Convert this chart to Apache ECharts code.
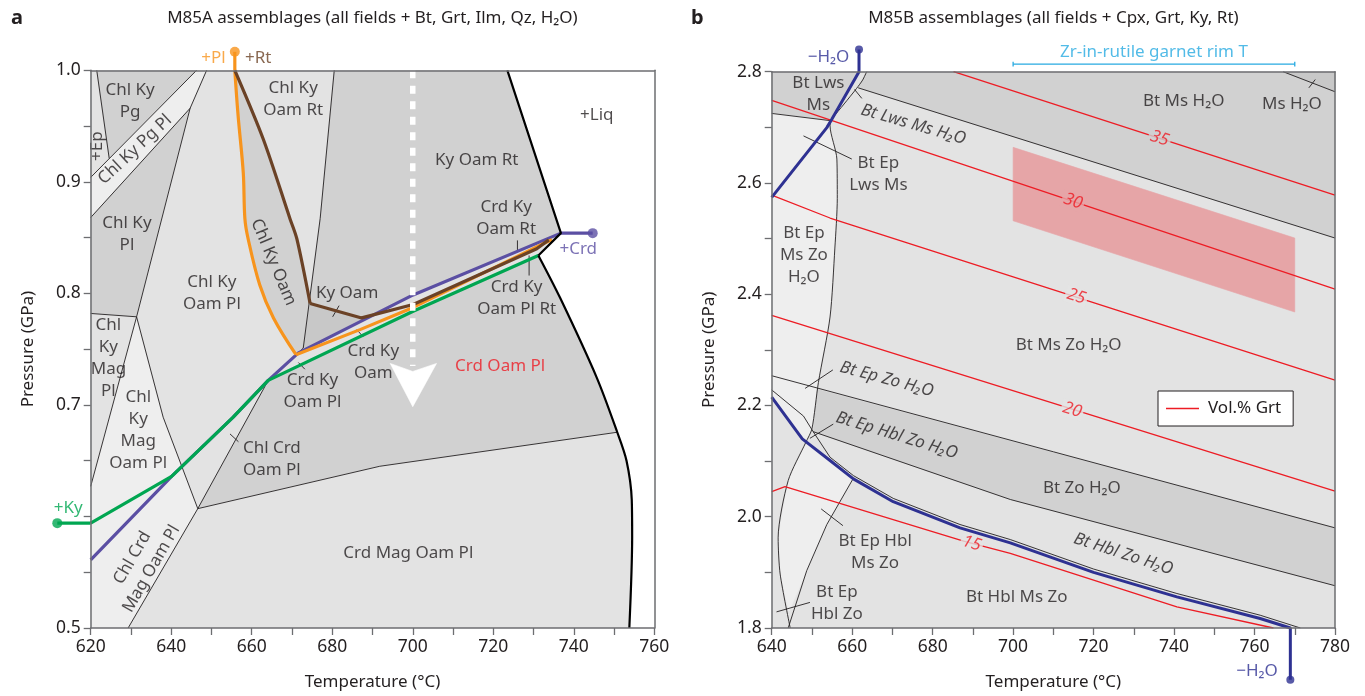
<!DOCTYPE html>
<html><head><meta charset="utf-8">
<script src="https://cdn.jsdelivr.net/npm/echarts@6/dist/echarts.min.js"></script>
<style>html,body{margin:0;padding:0;background:#fff}#c{width:1365px;height:696px}</style>
</head><body><div id="c"></div>
<script>
// ================= PANEL A DATA (T °C, P GPa) =================
const aGreenStub = [[611.7,0.594],[620,0.594]];
const aGreen  = [[620,0.594],[640.1,0.636],[655.4,0.689],[664.1,0.722],[700.1,0.784],[731.2,0.834]];
const aPurple = [[620,0.561],[640.1,0.636],[655.4,0.689],[664.1,0.722],[671.6,0.7467],[700.1,0.7986],[736.8,0.854],[744.7,0.854]];
const aOrangeStub = [[655.8,1.0166],[655.8,1.0]];
const aOrangeCurve = [[655.8,1.0],[656.6,0.96],[657.9,0.908],[658.3,0.867],[659.1,0.849],[662.0,0.8075],[665.4,0.778],[671.0,0.745]];
const aOrangeLow = [[671.0,0.745],[686.9,0.7675],[700.1,0.7874],[732.4,0.8446],[734.6,0.848]];
const aBrownCurve = [[655.8,1.0],[662.9,0.938],[669.5,0.867],[671.2,0.849],[674.5,0.791]];
const aBrownLow = [[674.5,0.791],[687.3,0.778],[700.1,0.790],[730.8,0.840],[733.8,0.848]];
const aLiqTop = [[723.5,1.0],[736.8,0.854],[731.2,0.834]];
const aLiqLow = [[731.2,0.834],[736.6,0.796],[745.7,0.7245],[750.8,0.6755],[753.1,0.65],[754.4,0.615],[754.5,0.582],[753.8,0.5]];
const aBounds = [
  [[621.5,1.0],[624.6,0.921]],
  [[620,0.904],[646.3,1.0]],
  [[620,0.868],[644.7,0.966],[648.8,1.0]],
  [[644.7,0.966],[631.4,0.779]],
  [[620,0.782],[631.4,0.779]],
  [[631.4,0.779],[620,0.627]],
  [[631.4,0.779],[638,0.689],[646.6,0.607]],
  [[646.6,0.607],[629.3,0.5]],
  [[646.6,0.607],[664.1,0.722]],
  [[646.6,0.607],[691.8,0.645],[750.8,0.6755]],
  [[680.5,1.0],[677,0.867],[672.8,0.751],[671.6,0.7467]]
];
const aLeaders = [
  [[671.6,0.738],[673.2,0.732]],
  [[686.1,0.7675],[687.7,0.761]],
  [[680.1,0.779],[681.7,0.789]],
  [[726,0.8475],[726,0.837]],
  [[728.9,0.834],[728.9,0.816]],
  [[654.6,0.674],[656.7,0.667]]
];
const aFields = [
  [[620,1],[621.5,1],[624.6,0.921],[620,0.904]],
  [[621.5,1],[646.3,1],[624.6,0.921]],
  [[620,0.904],[646.3,1],[648.8,1],[644.7,0.966],[620,0.868]],
  [[620,0.868],[644.7,0.966],[631.4,0.779],[620,0.782]],
  [[620,0.782],[631.4,0.779],[620,0.627]],
  [[620,0.627],[631.4,0.779],[638,0.689],[646.6,0.607],[629.3,0.5],[620,0.5]],
  [[648.8,1],[655.8,1],[656.6,0.96],[657.9,0.908],[658.3,0.867],[659.1,0.849],[662,0.8075],[665.4,0.778],[671,0.745],[664.1,0.722],[646.6,0.607],[638,0.689],[631.4,0.779],[644.7,0.966]],
  [[655.8,1],[656.6,0.96],[657.9,0.908],[658.3,0.867],[659.1,0.849],[662,0.8075],[665.4,0.778],[671,0.745],[671.6,0.7467],[672.8,0.751],[674.5,0.791],[671.2,0.849],[669.5,0.867],[662.9,0.938]],
  [[655.8,1],[680.5,1],[677,0.867],[674.5,0.791],[671.2,0.849],[669.5,0.867],[662.9,0.938]],
  [[680.5,1],[723.5,1],[736.8,0.854],[700.1,0.7986],[671.6,0.7467],[672.8,0.751],[677,0.867]],
  [[671.6,0.7467],[672.8,0.751],[674.5,0.791],[687.3,0.778],[688.5,0.7792]],
  [[664.1,0.722],[671.6,0.7467],[700.1,0.7986],[736.8,0.854],[731.2,0.834],[700.1,0.784]],
  [[646.6,0.607],[664.1,0.722],[700.1,0.784],[731.2,0.834],[736.6,0.796],[745.7,0.7245],[750.8,0.6755],[691.8,0.645]],
  [[629.3,0.5],[646.6,0.607],[691.8,0.645],[750.8,0.6755],[753.1,0.65],[754.4,0.615],[754.5,0.582],[753.8,0.5]]
];
const aFieldTone = ['light','dark','lightest','dark','light','lightest','light','dark','light','dark','darker','light','dark','light'];
const aDashed = [[700,1.0],[700,0.735]];
const aArrow  = [[694.4,0.7372],[700,0.7300],[705.9,0.7372],[700,0.6984]];
const aHiddenTicks = ['0.6'];
const aLabels = [
  ['Chl Ky\nPg',629.8,0.972,0],['+Ep',621.6,0.932,90],['Chl Ky Pg Pl',631,0.929,43],
  ['Chl Ky\nPl',629,0.853,0],['Chl Ky\nOam Rt',670.3,0.974,0],['Chl Ky Oam',665.4,0.828,-67],
  ['Ky Oam Rt',715.9,0.919,0],['+Liq',745.7,0.960,0],['Crd Ky\nOam Rt',723.2,0.8675,0],
  ['Chl Ky\nOam Pl',650.1,0.80,0],['Ky Oam',683.7,0.800,0],['Crd Ky\nOam Pl Rt',725.8,0.796,0],
  ['Crd Ky\nOam',690.2,0.7385,0],['Crd Ky\nOam Pl',675.1,0.712,0],['Chl\nKy\nMag\nPl',624.4,0.742,0],
  ['Chl\nKy\nMag\nOam Pl',631.8,0.677,0],['Chl Crd\nOam Pl',665,0.651,0],['Chl Crd\nMag Oam Pl',632.7,0.558,60],
  ['Crd Mag Oam Pl',698.9,0.567,0]
];

// ================= PANEL B DATA =================
const bBlueTop = [[661.7,2.84],[661.7,2.8],[654.9,2.714],[653.7,2.6995],[640,2.574]];
const bBlueLow = [[640,2.215],[647.6,2.140],[654.5,2.101],[660.3,2.068],[670.2,2.027],[686.8,1.980],[699.3,1.953],[720,1.900],[740.7,1.856],[761.4,1.817],[768.9,1.8],[768.9,1.707]];
const bEpCurve = [[663.6,2.8],[662.6,2.785],[661.1,2.77],[658,2.742],[654.9,2.714],[654.5,2.703],[656.2,2.643],[656.3,2.572],[655.7,2.483],[654.5,2.359],[651.6,2.241],[650,2.158],[648.5,2.134],[644.1,2.065],[641.6,1.962],[642.1,1.897],[644.6,1.8]];
const bBounds = [
  [[640,2.725],[654.6,2.712]],
  [[661.5,2.771],[780,2.501]],
  [[767.1,2.8],[780,2.764]],
  [[640,2.2535],[780,1.98]],
  [[650.3,2.153],[699.3,2.031],[780,1.876]],
  [[640,2.228],[647.9,2.181],[650.3,2.153],[654.5,2.107],[660.3,2.074],[670.2,2.033],[686.8,1.986],[699.3,1.959],[720,1.906],[740.7,1.862],[761.4,1.823],[771.4,1.8]],
  [[660.2,2.068],[653.7,1.986],[648.7,1.903],[644.1,1.8]]
];
const bLeaders = [
  [[660.6,2.768],[662.4,2.752]],
  [[647.9,2.6846],[659.9,2.643]],
  [[648.3,2.2307],[655.2,2.2639]],
  [[649.5,2.141],[655.3,2.1665]],
  [[652.3,2.014],[657.7,1.984]],
  [[641.2,1.829],[649.5,1.846]],
  [[773.5,2.771],[775.1,2.786]]
];
const bGrt = {
  '35': [[685.2,2.8],[780,2.578]],
  '30': [[640,2.7485],[780,2.409]],
  '25': [[640,2.578],[654.5,2.537],[780,2.2455]],
  '20': [[640,2.362],[780,2.046]],
  '15': [[640,2.045],[643.3,2.054],[687.7,1.956],[699.3,1.934],[740.7,1.838],[764.7,1.80]]
};
const bGrtLabels = [['35',736.4,2.680,'dark'],['30',714.9,2.567,'pink'],['25',715.7,2.396,'light'],['20',714.7,2.192,'light'],['15',689.7,1.952,'light']];
const bRimBox = [[700,2.664],[770,2.501],[770,2.368],[700,2.532]];
const bRimT = [[700,2.8137],[770,2.8137]];
const bFields = [
  [[640,2.8],[661.7,2.8],[654.9,2.714],[654.6,2.712],[640,2.725]],
  [[663.6,2.8],[780,2.8],[780,2.501],[661.5,2.771],[662.6,2.785]],
  [[767.1,2.8],[780,2.8],[780,2.764]],
  [[640,2.725],[654.6,2.712],[654.5,2.703],[656.2,2.643],[656.3,2.572],[655.7,2.483],[654.5,2.359],[651.6,2.241],[650,2.158],[648.5,2.134],[647.6,2.140],[640,2.215]],
  [[648.5,2.134],[654.5,2.101],[660.3,2.068],[660.2,2.068],[653.7,1.986],[648.7,1.903],[644.3,1.83],[642.1,1.897],[641.6,1.962],[644.1,2.065]],
  [[651.3,2.229],[780,1.98],[780,1.876],[699.3,2.031],[650.3,2.153]]
];
const bFieldTone = ['dark','dark','darker','lightest','lightest','dark'];
const bLabels = [
  ['Bt Lws\nMs',651.6,2.76,0],['Bt Lws Ms H₂O',675.2,2.705,-16],['Bt Ep\nLws Ms',666.5,2.615,0],
  ['Bt Ep\nMs Zo\nH₂O',648,2.47,0],['Bt Ms H₂O',742.4,2.747,0],['Ms H₂O',769.3,2.741,0],
  ['Bt Ms Zo H₂O',713.8,2.309,0],['Bt Ep Zo H₂O',668.6,2.247,-15],['Bt Ep Hbl Zo H₂O',671.1,2.146,-17],
  ['Bt Zo H₂O',717.1,2.052,0],['Bt Hbl Zo H₂O',727.4,1.933,-18],['Bt Ep Hbl\nMs Zo',665.7,1.937,0],
  ['Bt Ep\nHbl Zo',656.2,1.8445,0],['Bt Hbl Ms Zo',700.9,1.855,0]
];

// ================= STYLES =================
const FONT = "'Noto Sans','DejaVu Sans',sans-serif";
const INK = '#231f20', AX = '#6d6e71';
const FS = 17;
const TONES = {dark:'#d1d1d1', darker:'#c8c8c8', light:'#e3e3e3', lightest:'#eeeeee', pink:'#e6a5a7', white:'#ffffff'};
const C = {green:'#00a651', purple:'#5b4fa3', orange:'#f7941d', brown:'#6b4226', blue:'#2e3192', red:'#ed1c24', cyan:'#27aae1'};

function polySeries(polys, tones, gi, z) {
  return {type:'custom', xAxisIndex:gi, yAxisIndex:gi, z:z, silent:true, clip:true, animation:false,
    data: polys.map((p,i)=>[p[0][0],p[0][1],i]),
    renderItem:(params, api)=>{
      const i = params.dataIndex, col = TONES[tones[i]];
      return {type:'polygon', shape:{points: polys[i].map(q=>api.coord(q))},
        style:{fill:col, stroke:col, lineWidth:0.6}};
    }};
}
function stubSeries(pts, gi, color, width, z) {
  const last = pts[pts.length-1];
  return {type:'custom', xAxisIndex:gi, yAxisIndex:gi, z:z, silent:true, clip:false, animation:false,
    data:[[last[0], last[1]]],
    renderItem:(params, api)=>({type:'polyline', shape:{points: pts.map(q=>api.coord(q))},
      style:{stroke:color, lineWidth:width, fill:null}})};
}
function lineS(data, gi, color, width, extra) {
  return Object.assign({type:'line', xAxisIndex:gi, yAxisIndex:gi, data:data, symbol:'none', silent:true,
    animation:false, lineStyle:{color:color, width:width}, itemStyle:{color:color}, z:3}, extra||{});
}
function dotS(pts, gi, color, size) {
  return {type:'scatter', xAxisIndex:gi, yAxisIndex:gi, data:pts, symbol:'circle', symbolSize:size,
    itemStyle:{color:color}, clip:false, silent:true, z:6, animation:false};
}
function labelS(list, gi, color, extra) {
  return {type:'scatter', xAxisIndex:gi, yAxisIndex:gi, symbol:'circle', symbolSize:1, clip:false, silent:true, z:8,
    animation:false, itemStyle:{color:'transparent'},
    data: list.map(l=>({value:[l[1],l[2]], label:{formatter:l[0], rotate:l[3]||0,
      fontStyle: (l[3] && gi===1) ? 'italic' : 'normal'}})),
    label: Object.assign({show:true, position:'inside', color:color, fontSize:FS, fontFamily:FONT,
      lineHeight:22, align:'center', verticalAlign:'middle'}, extra||{})};
}

const series = [];
// panel a
series.push(polySeries(aFields, aFieldTone, 0, 1));
aBounds.forEach(b=>series.push(lineS(b,0,INK,0.9,{z:2})));
aLeaders.forEach(b=>series.push(lineS(b,0,INK,0.9,{z:2})));
series.push(lineS(aPurple,0,C.purple,3.2,{z:3}));
series.push(stubSeries(aOrangeStub,0,C.orange,3.2,3));
series.push(lineS(aOrangeCurve,0,C.orange,3.2,{z:3, smooth:0.35}));
series.push(lineS(aOrangeLow,0,C.orange,3.2,{z:3}));
series.push(lineS(aBrownCurve,0,C.brown,3.2,{z:3, smooth:0.3}));
series.push(lineS(aBrownLow,0,C.brown,3.2,{z:3}));
series.push(stubSeries(aGreenStub,0,C.green,3.2,3));
series.push(lineS(aGreen,0,C.green,3.2,{z:3}));
series.push(lineS(aLiqTop,0,'#000',2.2,{z:3}));
series.push(lineS(aLiqLow,0,'#000',2.2,{z:3, smooth:0.3}));
series.push(lineS(aDashed,0,'#ffffff',5.5,{z:4, lineStyle:{color:'#fff', width:5.5, type:[8,7.5]}}));
series.push(polySeries([aArrow],['white'],0,4));
series.push(dotS([aOrangeStub[0]],0,C.orange,10));
series.push(dotS([aGreenStub[0]],0,C.green,10));
series.push(dotS([aPurple[aPurple.length-1]],0,C.purple,10));
series.push(labelS(aLabels,0,INK));
series.push(labelS([['Crd Oam Pl',721.7,0.735,0]],0,C.red));
series.push(labelS([['+Pl',650.5,1.011,0]],0,C.orange));
series.push(labelS([['+Rt',661.6,1.011,0]],0,C.brown));
series.push(labelS([['+Ky',614.4,0.607,0]],0,C.green));
series.push(labelS([['+Crd',741.1,0.8395,0]],0,C.purple));
// panel b
series.push(polySeries(bFields, bFieldTone, 1, 1));
series.push(polySeries([bRimBox], ['pink'], 1, 1.5));
bBounds.forEach(b=>series.push(lineS(b,1,INK,0.9,{z:2})));
series.push(lineS(bEpCurve,1,INK,0.9,{z:2, smooth:0.25}));
bLeaders.forEach(b=>series.push(lineS(b,1,INK,0.9,{z:2})));
Object.keys(bGrt).forEach(k=>series.push(lineS(bGrt[k],1,C.red,1.3,{z:2.5, name:'Vol.% Grt'})));
series.push({type:'scatter', xAxisIndex:1, yAxisIndex:1, symbolSize:1, silent:true, z:7, animation:false,
  itemStyle:{color:'transparent'},
  data: bGrtLabels.map(l=>({value:[l[1],l[2]], label:{formatter:l[0], backgroundColor:TONES[l[3]]}})),
  label:{show:true, position:'inside', color:C.red, fontSize:FS, fontStyle:'italic', fontFamily:FONT,
    rotate:-18, padding:[0,2,0,2]}});
series.push(lineS(bBlueTop,1,C.blue,3,{z:3, clip:false}));
series.push(lineS(bBlueLow,1,C.blue,3,{z:3, clip:false}));
series.push(dotS([bBlueTop[0], bBlueLow[bBlueLow.length-1]],1,C.blue,8));
series.push(stubSeries(bRimT,1,C.cyan,1.3,3));
series.push(stubSeries([[700,2.8095],[700,2.818]],1,C.cyan,1.3,3));
series.push(stubSeries([[770,2.8095],[770,2.818]],1,C.cyan,1.3,3));
series.push(labelS(bLabels,1,INK));
series.push(labelS([['−H₂O',654.1,2.8267,0],['−H₂O',760.6,1.7226,0]],1,C.blue));
series.push(labelS([['Zr-in-rutile garnet rim T',735,2.8355,0]],1,C.cyan));

function xAx(gi, min, max, name, pos) {
  const main = pos === 'bottom';
  return {gridIndex:gi, type:'value', min:min, max:max, interval:10, position:pos, z:10,
    axisLine:{show:true, onZero:false, lineStyle:{color:AX, width:1.5}},
    axisTick:{show:main, length:7, lineStyle:{color:AX, width:1.3}},
    axisLabel:{show:main, interval:0, margin:10, color:INK, fontSize:17.5, fontFamily:FONT,
      formatter:v=> (Math.round(v)%20===0 ? String(Math.round(v)) : '')},
    splitLine:{show:false},
    name: main ? name : '', nameLocation:'middle', nameGap:46,
    nameTextStyle:{color:INK, fontSize:17, fontFamily:FONT}};
}
function yAx(gi, min, max, step, labStep, pos, hidden) {
  const main = pos === 'left';
  return {gridIndex:gi, type:'value', min:min, max:max, interval:step, position:pos, z:10,
    axisLine:{show:true, onZero:false, lineStyle:{color:AX, width:1.5}},
    axisTick:{show:main, length:7, lineStyle:{color:AX, width:1.3}},
    axisLabel:{show:main, margin:10, color:INK, fontSize:17.5, fontFamily:FONT,
      formatter:v=>{ const k = Math.round(v/labStep); const s = v.toFixed(1);
        return (Math.abs(v/labStep-k)<1e-6 && hidden.indexOf(s)<0) ? s : ''; }},
    splitLine:{show:false},
    name: main ? 'Pressure (GPa)' : '', nameLocation:'middle', nameGap:54, nameRotate:90,
    nameTextStyle:{color:INK, fontSize:17, fontFamily:FONT}};
}

const chart = echarts.init(document.getElementById('c'), null, {renderer:'canvas'});
chart.setOption({
  animation:false,
  backgroundColor:'#ffffff',
  textStyle:{fontFamily:FONT},
  title:[
    {text:'a', left:11, top:8, padding:0, textStyle:{fontWeight:'bold', fontSize:20, color:INK, fontFamily:FONT}},
    {text:'M85A assemblages (all fields + Bt, Grt, Ilm, Qz, H₂O)', left:372.4, top:10, padding:0, textAlign:'center',
      textStyle:{fontWeight:'normal', fontSize:17, color:INK, fontFamily:FONT}},
    {text:'b', left:691, top:8, padding:0, textStyle:{fontWeight:'bold', fontSize:20, color:INK, fontFamily:FONT}},
    {text:'M85B assemblages (all fields + Cpx, Grt, Ky, Rt)', left:1053.4, top:10, padding:0, textAlign:'center',
      textStyle:{fontWeight:'normal', fontSize:17, color:INK, fontFamily:FONT}}
  ],
  legend:{data:[{name:'Vol.% Grt', icon:'rect', itemStyle:{color:C.red}}], left:1158, top:391, orient:'horizontal', selectedMode:false,
    itemWidth:33, itemHeight:1.6, itemGap:6, padding:[9,12,9,8], backgroundColor:'#ffffff',
    borderColor:INK, borderWidth:1, borderRadius:0,
    textStyle:{fontSize:FS, color:INK, fontFamily:FONT, padding:[0,0,0,4]}},
  grid:[
    {left:90.7, top:70.3, width:563.6, height:562, show:true, backgroundColor:'#ffffff', borderWidth:0},
    {left:771.7, top:71.7, width:563.3, height:562.6, show:true, backgroundColor:TONES.light, borderWidth:0}
  ],
  xAxis:[xAx(0,620,760,'Temperature (°C)','bottom'), xAx(1,640,780,'Temperature (°C)','bottom'),
         xAx(0,620,760,'','top'), xAx(1,640,780,'','top')],
  yAxis:[yAx(0,0.5,1.0,0.05,0.1,'left',aHiddenTicks), yAx(1,1.8,2.8,0.1,0.2,'left',[]),
         yAx(0,0.5,1.0,0.05,0.1,'right',[]), yAx(1,1.8,2.8,0.1,0.2,'right',[])],
  series:series
});
</script></body></html>
